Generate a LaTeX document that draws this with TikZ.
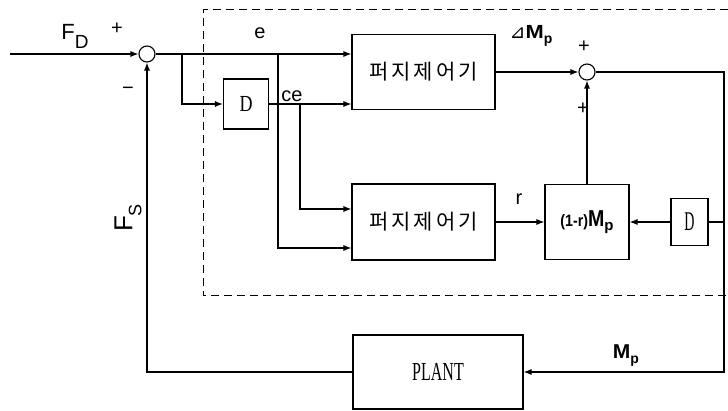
\documentclass[tikz,border=0pt]{standalone}
\usepackage{fontspec}
\setmainfont{Liberation Sans}
\newfontfamily\krfont[LetterSpace=14]{Noto Sans CJK KR}
\newfontfamily\serfont{Liberation Serif}
\newfontfamily\symfont{DejaVu Sans}
\usetikzlibrary{arrows.meta,positioning}
\begin{document}
\begin{tikzpicture}[x=1pt,y=-1pt,line width=1.1pt,
  blk/.style={draw,rectangle,inner sep=0pt},
  sumc/.style={draw,circle,minimum size=16pt,inner sep=0pt},
  arr/.style={-{Latex[length=8pt,width=6pt]}},
  lbl/.style={inner sep=0pt,font=\fontsize{20}{20}\selectfont}]
\useasboundingbox (0,0) rectangle (728,411);
\draw[line width=1pt,dash pattern=on 8pt off 5pt] (728,10)--(203,10)--(203,296)--(728,296);
\node[sumc] (s1) at (147,54) {};
\node[sumc] (s2) at (587,72) {};
\node[blk,minimum width=143pt,minimum height=75pt] (fz1) at (423.5,72) {\krfont\fontsize{21}{21}\selectfont 퍼지제어기};
\node[blk,minimum width=143pt,minimum height=76pt] (fz2) at (423.5,222) {\krfont\fontsize{21}{21}\selectfont 퍼지제어기};
\node[blk,minimum width=45pt,minimum height=50pt] (d1) at (246,104) {\serfont\fontsize{20}{20}\selectfont\scalebox{0.9}[1.15]{D}};
\node[blk,minimum width=37pt,minimum height=47pt] (d2) at (689.5,222) {\serfont\fontsize{20}{20}\selectfont\scalebox{0.7}[1.35]{D}};
\node[blk,minimum width=84pt,minimum height=75pt] (mix) at (587,222) {\bfseries\fontsize{15}{15}\selectfont\scalebox{0.95}[1.1]{(1-r)}\fontsize{23}{23}\selectfont\scalebox{0.85}[1]{M}\raisebox{-4pt}{\fontsize{15}{15}\selectfont p}};
\node[blk,minimum width=170pt,minimum height=74pt] (pl) at (438,372) {\serfont\fontsize{20}{20}\selectfont\scalebox{0.8}[1.3]{PLANT}};
\coordinate (in) at (10,54);
\coordinate (b1) at (182,54);
\coordinate (b2) at (278,54);
\coordinate (b3) at (300,104);
\coordinate (c1) at (724,72);
\coordinate (c2) at (724,222);
% forward path
\draw[arr] (in)--(s1.west);
\draw[arr] (s1.east)--(s1.east-|fz1.west);
\draw[arr] (b1)|-(d1.west);
\draw[arr] (d1.east)--(d1.east-|fz1.west);
\draw[arr] (b2)|-([yshift=-26pt]fz2.west);
\draw[arr] (b3)|-([yshift=13pt]fz2.west);
\draw[arr] (fz1.east)--(s2.west);
\draw[arr] (fz2.east)--(mix.west);
\draw[arr] (mix.north)--(s2.south);
\draw[arr] (d2.west)--(mix.east);
\draw (c2)--(d2.east);
% feedback
\draw[arr] (s2.east)--(c1)|-(pl.east);
\draw[arr] (pl.west)-|(s1.south);
% labels
\node[lbl] (fd) at (75,36) {\fontsize{22}{22}\selectfont F\raisebox{-9pt}{\fontsize{19}{19}\selectfont D}};
\node[lbl] (p1) at (117,29) {+};
\node[lbl] (m1) at (128,91) {\textminus};
\node[lbl,rotate=90] (fs) at (128,218) {\fontsize{26}{26}\selectfont F\raisebox{-9pt}{\fontsize{18}{18}\selectfont S}};
\node[lbl] (le) at (260,33) {e};
\node[lbl] (lce) at (292,96) {ce};
\node[lbl] (ldm) at (531,36) {{\symfont\fontsize{19}{19}\selectfont ⊿}\bfseries\fontsize{19}{19}\selectfont\scalebox{1.15}[1]{M}\raisebox{-5pt}{\fontsize{14}{14}\selectfont p}};
\node[lbl] (p2) at (584,47) {+};
\node[lbl] (p3) at (583,109) {+};
\node[lbl] (lr) at (519,199) {r};
\node[lbl] (lmp) at (626,356) {\bfseries\fontsize{20}{20}\selectfont\scalebox{1.05}[1]{M}\raisebox{-5pt}{\fontsize{14}{14}\selectfont p}};
\end{tikzpicture}
\end{document}
